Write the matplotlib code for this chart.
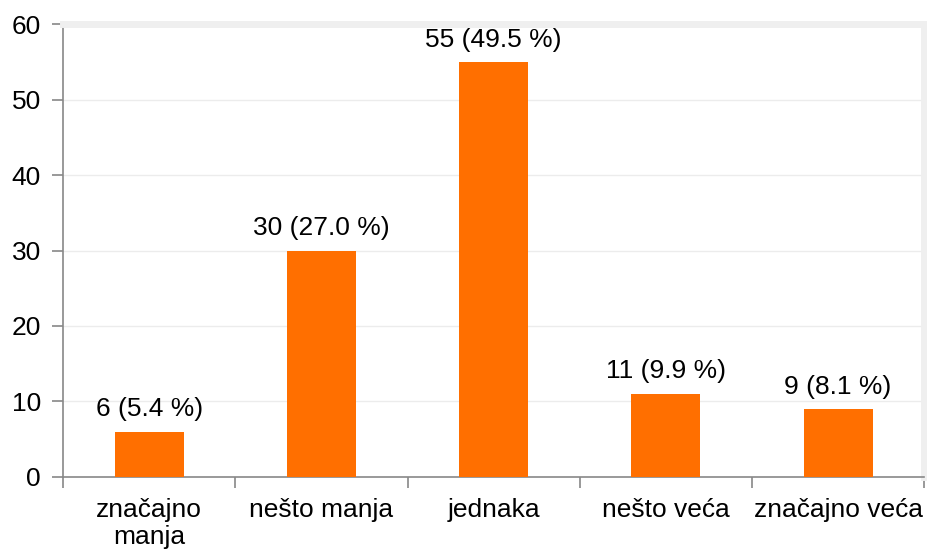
import numpy as np
import matplotlib.pyplot as plt

categories = ['značajno\nmanja', 'nešto manja', 'jednaka', 'nešto veća', 'značajno veća']
counts = [6, 30, 55, 11, 9]
percents = [5.4, 27.0, 49.5, 9.9, 8.1]

plt.rcParams['font.family'] = ['Liberation Sans', 'DejaVu Sans']

fig = plt.figure(figsize=(9.27, 5.5), dpi=100)
ax = fig.add_axes([0.068, 0.133, 0.929, 0.823])

x = np.arange(len(categories))
ax.bar(x, counts, width=0.4, color='#ff6f00', zorder=3)
for xi, c, p in zip(x, counts, percents):
    ax.annotate(f'{c} ({p:.1f} %)', (xi, c), xytext=(0, 7.5), textcoords='offset points',
                ha='center', va='bottom', fontsize=19)

ax.set_xlim(-0.5, len(categories) - 0.5)
ax.set_ylim(0, 60)
ax.set_yticks(np.arange(0, 61, 10))
ax.set_xticks(x)
ax.set_xticklabels(categories, fontsize=19, linespacing=1.15)
ax.set_xticks(np.arange(-0.5, len(categories), 1), minor=True)
ax.tick_params(axis='x', which='major', length=0, pad=15)
ax.tick_params(axis='x', which='minor', length=8, color='#888888', width=1.2)
ax.tick_params(axis='y', labelsize=19, length=8, color='#888888', width=1.2, pad=8)
ax.yaxis.grid(True, color='#ececec', linewidth=1, zorder=0)

for s in ['left', 'bottom']:
    ax.spines[s].set_color('#888888')
    ax.spines[s].set_linewidth(1.2)
for s in ['top', 'right']:
    ax.spines[s].set_color('#efefef')
    ax.spines[s].set_linewidth(5)

fig.savefig('out.png', dpi=100)
